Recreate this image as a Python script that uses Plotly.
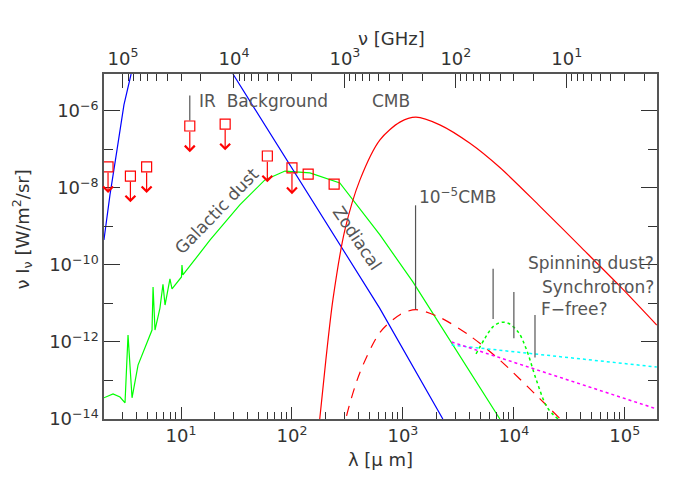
import numpy as np
import plotly.graph_objects as go

# --- data (wavelength in micron, log10 of nu I_nu in W/m^2/sr) ---
dust_lam = [2.02, 2.44, 2.82, 3.13, 3.33, 3.62, 4.10, 5.48, 5.6, 5.83, 6.46, 6.88, 7.18, 7.95, 8.3,
            10.1, 10.2, 10.4, 18.3, 33.9, 57, 86.5, 145, 270, 621, 1230, 7480]
dust_logI = [-13.45, -13.35, -13.43, -13.58, -11.82, -13.45, -12.6, -11.69, -10.57, -11.69, -11.12, -10.5,
             -11.04, -10.36, -10.62, -10.31, -10.0, -10.26, -9.35, -8.44, -7.79, -7.56, -7.61, -7.87,
             -9.22, -10.44, -14.0]

zodi_lam = [2.02, 2.29, 2.65, 3.06, 3.55, 29.4, 95.5, 288, 617, 2290]
zodi_logI = [-9.35, -8.18, -7.01, -5.84, -5.04, -5.04, -7.4, -9.61, -11.12, -14.0]

cmb_lam = [178, 202, 234, 300, 410, 621, 940, 1310, 2150, 4020, 7480, 17100, 39400, 90200, 194000]
cmb_logI = [-14.0, -12.47, -10.9, -9.09, -7.79, -6.75, -6.29, -6.16, -6.36, -6.84, -7.47, -8.47, -9.51,
            -10.55, -11.56]
cmb_scale = -5  # "10^-5 CMB"

spin_lam = [4560, 5500, 6500, 7700, 9000, 11000, 13000, 16000, 20000, 25000]
spin_logI = [-12.31, -11.9, -11.6, -11.49, -11.52, -11.75, -12.2, -13.0, -13.7, -14.0]

sync_lam = [2750, 194000]
sync_logI = [-12.08, -12.65]
ffree_lam = [2750, 194000]
ffree_logI = [-12.0, -13.74]

lim_lam = [2.2, 3.5, 4.9, 12, 25, 60, 100, 140, 240]
lim_logI = [-7.45, -7.69, -7.45, -6.39, -6.34, -7.17, -7.48, -7.64, -7.9]
lim_arrow = [True, True, True, True, True, True, True, False, False]

x_range = [0.306, 5.29]
y_range = [-14.0, -5.04]

p = lambda a: [10 ** v for v in a]

fig = go.Figure()
fig.add_trace(go.Scatter(x=dust_lam, y=p(dust_logI), mode="lines", line=dict(color="#00ff00", width=1.2)))
fig.add_trace(go.Scatter(x=zodi_lam[:5], y=p(zodi_logI[:5]), mode="lines", line=dict(color="#0000ff", width=1.2)))
fig.add_trace(go.Scatter(x=zodi_lam[5:], y=p(zodi_logI[5:]), mode="lines", line=dict(color="#0000ff", width=1.2)))
fig.add_trace(go.Scatter(x=cmb_lam, y=p(cmb_logI), mode="lines",
                         line=dict(color="#ff0000", width=1.2, shape="spline", smoothing=0.8)))
fig.add_trace(go.Scatter(x=cmb_lam, y=p([v + cmb_scale for v in cmb_logI]), mode="lines",
                         line=dict(color="#ff0000", width=1.2, dash="10px,8px", shape="spline", smoothing=0.8)))
fig.add_trace(go.Scatter(x=spin_lam, y=p(spin_logI), mode="lines",
                         line=dict(color="#00ff00", width=1.5, dash="dot", shape="spline")))
fig.add_trace(go.Scatter(x=sync_lam, y=p(sync_logI), mode="lines", line=dict(color="#00ffff", width=1.5, dash="dot")))
fig.add_trace(go.Scatter(x=ffree_lam, y=p(ffree_logI), mode="lines", line=dict(color="#ff00ff", width=1.5, dash="dot")))
fig.add_trace(go.Scatter(x=lim_lam, y=p(lim_logI), mode="markers",
                         marker=dict(symbol="square-open", size=10, color="#ff0000", line=dict(width=1.2))))
fig.add_trace(go.Scatter(x=[100], y=[1e-10], xaxis="x2", mode="markers", marker=dict(opacity=0)))

ann = []
for lam, li, a in zip(lim_lam, lim_logI, lim_arrow):
    if a:
        ann.append(dict(x=np.log10(lam), y=li - 0.68, xref="x", yref="y", ax=0, ay=-22,
                        showarrow=True, arrowhead=4, arrowsize=1.6, arrowwidth=1.2, arrowcolor="#ff0000", text=""))

grey = "#555555"
lf = dict(family="DejaVu Sans", size=17, color=grey)
def lab(x, y, t, ang=0, xa="left"):
    ann.append(dict(x=np.log10(x), y=y, xref="x", yref="y", text=t, showarrow=False, textangle=ang,
                    xanchor=xa, yanchor="middle", font=lf))
lab(14, -5.75, "IR  Background")
lab(500, -5.75, "CMB")
lab(1350, -8.2, "10<sup>−5</sup>CMB")
lab(190000, -9.95, "Spinning dust?", xa="right")
lab(190000, -10.58, "Synchrotron?", xa="right")
lab(17000, -11.15, "F−free?")
ann.append(dict(x=np.log10(21), y=-8.6, xref="x", yref="y", text="Galactic dust", showarrow=False,
                textangle=-46, font=lf))
ann.append(dict(x=np.log10(385), y=-9.3, xref="x", yref="y", text="Zodiacal", showarrow=False,
                textangle=56, font=lf))
ann.append(dict(x=-0.175, y=0.55, xref="paper", yref="paper", text="ν I<sub>ν</sub> [W/m<sup>2</sup>/sr]",
                showarrow=False, textangle=-90, font=dict(family="DejaVu Sans", size=18, color="#333")))
ann.append(dict(x=0.52, y=1.14, xref="paper", yref="paper", text="ν [GHz]",
                showarrow=False, font=dict(family="DejaVu Sans", size=18, color="#333")))

shapes = []
def vl(x, y0, y1):
    shapes.append(dict(type="line", xref="x", yref="y", x0=x, x1=x, y0=10 ** y0, y1=10 ** y1,
                       line=dict(color=grey, width=1.2)))
vl(12, -5.6, -6.25)
vl(1300, -8.45, -11.15)
vl(6500, -10.1, -11.4)
vl(10000, -10.7, -11.9)
vl(15500, -11.3, -12.4)

tickfont = dict(family="DejaVu Sans", size=18, color="#333")
dec = [10, 100, 1000, 10000, 100000]
dectext = ["10<sup>1</sup>", "10<sup>2</sup>", "10<sup>3</sup>", "10<sup>4</sup>", "10<sup>5</sup>"]
minors = [m * 10 ** e for e in range(0, 6) for m in range(2, 10)]
fig.update_layout(
    width=692, height=494, margin=dict(l=104, r=35, t=74, b=75),
    paper_bgcolor="white", plot_bgcolor="white", showlegend=False,
    annotations=ann, shapes=shapes,
    xaxis=dict(type="log", range=x_range, showgrid=False, zeroline=False, showline=True, linecolor="#555",
               linewidth=1.5, ticks="inside", ticklen=12, tickcolor="#333", tickvals=dec, ticktext=dectext,
               tickfont=tickfont,
               minor=dict(ticks="inside", ticklen=7, tickcolor="#333", tickvals=minors),
               title=dict(text="λ [μ m]", font=dict(family="DejaVu Sans", size=18, color="#333"), standoff=8)),
    xaxis2=dict(type="log", overlaying="x", side="top",
                range=[np.log10(3e5) - x_range[0], np.log10(3e5) - x_range[1]],
                showgrid=False, zeroline=False, showline=True, linecolor="#555", linewidth=1.5,
                ticks="inside", ticklen=14, tickcolor="#333", tickvals=dec, ticktext=dectext, tickfont=tickfont,
                minor=dict(ticks="inside", ticklen=7, tickcolor="#333", tickvals=minors)),
    yaxis=dict(type="log", range=y_range, showgrid=False, zeroline=False, showline=True, linecolor="#555",
               linewidth=1.5, mirror="ticks", ticks="inside", ticklen=16, tickcolor="#333",
               tickvals=[1e-14, 1e-12, 1e-10, 1e-8, 1e-6],
               ticktext=["10<sup>−14</sup>", "10<sup>−12</sup>", "10<sup>−10</sup>", "10<sup>−8</sup>", "10<sup>−6</sup>"],
               tickfont=tickfont,
               minor=dict(ticks="inside", ticklen=9, tickcolor="#333", tickvals=[1e-13, 1e-11, 1e-9, 1e-7])),
)
fig.write_html("out.html", config={"displayModeBar": False})
with open("out.html") as f:
    html = f.read()
html = html.replace("<head>", "<head><style>body{margin:0;padding:0;overflow:hidden}</style>", 1)
with open("out.html", "w") as f:
    f.write(html)
